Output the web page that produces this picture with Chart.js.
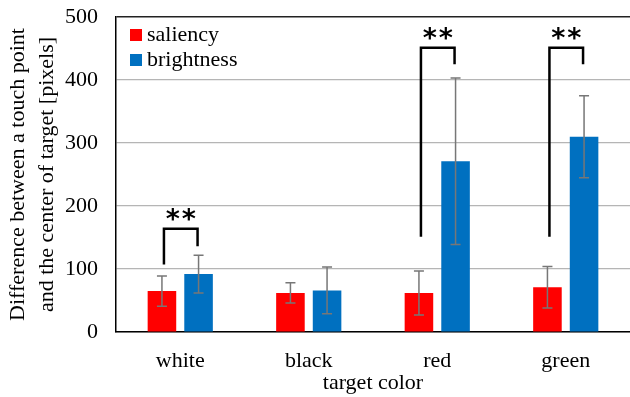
<!DOCTYPE html>
<html>
<head>
<meta charset="utf-8">
<script src="https://cdn.jsdelivr.net/npm/chart.js@4"></script>
<style>
  html, body { margin: 0; padding: 0; background: #fff; }
  #wrap { width: 630px; height: 397px; }
</style>
</head>
<body>
<div id="wrap"><canvas id="bar-chart"></canvas></div>
<script>
// data
categories = ['white', 'black', 'red', 'green']
saliencyMean = [65, 62, 62, 71]
saliencyErr = [24, 16, 35, 33]
brightnessMean = [92, 66, 271, 310]
brightnessErr = [30, 37, 132, 65]
yTicks = [0, 100, 200, 300, 400, 500]

// significance brackets (category index, left foot, right foot, top) in data units
bracketCat = [0, 2, 3]
bracketLeft = [107, 151, 151]
bracketRight = [136, 425, 425]
bracketTop = [164, 451, 451]

fontName = '"Liberation Serif", "Times New Roman", serif'
errors = [saliencyErr, brightnessErr]

// error bars with caps
errorBarPlugin = {
    id: 'errorBars',
    afterDatasetsDraw: function(chart) {
        var ctx = chart.ctx
        var y = chart.scales.y
        ctx.save()
        ctx.strokeStyle = '#777777'
        ctx.lineWidth = 1.5
        chart.data.datasets.forEach(function(ds, i) {
            var meta = chart.getDatasetMeta(i)
            meta.data.forEach(function(bar, j) {
                var v = ds.data[j], e = errors[i][j]
                var top = y.getPixelForValue(v + e)
                var bot = y.getPixelForValue(v - e)
                ctx.beginPath()
                ctx.moveTo(bar.x, top); ctx.lineTo(bar.x, bot)
                ctx.moveTo(bar.x - 5, top); ctx.lineTo(bar.x + 5, top)
                ctx.moveTo(bar.x - 5, bot); ctx.lineTo(bar.x + 5, bot)
                ctx.stroke()
            })
        })
        ctx.restore()
    }
}

// "**" brackets
bracketPlugin = {
    id: 'brackets',
    afterDatasetsDraw: function(chart) {
        var ctx = chart.ctx
        var y = chart.scales.y
        var m0 = chart.getDatasetMeta(0), m1 = chart.getDatasetMeta(1)
        ctx.save()
        ctx.strokeStyle = '#000'
        ctx.lineWidth = 2.5
        ctx.lineJoin = 'miter'
        bracketCat.forEach(function(c, k) {
            var x1 = m0.data[c].x + 2, x2 = m1.data[c].x - 1
            var yt = y.getPixelForValue(bracketTop[k])
            ctx.beginPath()
            ctx.moveTo(x1, y.getPixelForValue(bracketLeft[k]))
            ctx.lineTo(x1, yt)
            ctx.lineTo(x2, yt)
            ctx.lineTo(x2, y.getPixelForValue(bracketRight[k]))
            ctx.stroke()
            ctx.fillStyle = '#000'
            ctx.font = 'bold 27px "DejaVu Sans"'
            ctx.textAlign = 'center'
            ctx.textBaseline = 'middle'
            var cx = (x1 + x2) / 2
            ctx.fillText('*', cx - 8, yt - 8)
            ctx.fillText('*', cx + 8, yt - 8)
        })
        ctx.restore()
    }
}

// legend inside the plot, top left
legendPlugin = {
    id: 'innerLegend',
    afterDraw: function(chart) {
        var ctx = chart.ctx
        var a = chart.chartArea
        ctx.save()
        ctx.font = '22px ' + fontName
        ctx.textBaseline = 'middle'
        chart.data.datasets.forEach(function(ds, i) {
            var cy = a.top + 18 + i * 25
            ctx.fillStyle = ds.backgroundColor
            ctx.fillRect(a.left + 14, cy - 6, 12, 12)
            ctx.fillStyle = '#000'
            ctx.fillText(ds.label, a.left + 31, cy)
        })
        ctx.restore()
    }
}

window.onload = function() {
    ctx = document.getElementById('bar-chart')
    config = {
        type: 'bar',
        data: {
            labels: categories,
            datasets: [{
                label: 'saliency',
                backgroundColor: '#FF0000',
                data: saliencyMean,
                categoryPercentage: 0.57,
                barPercentage: 0.78
            }, {
                label: 'brightness',
                backgroundColor: '#0070C0',
                data: brightnessMean,
                categoryPercentage: 0.57,
                barPercentage: 0.78
            }]
        },
        options: {
            responsive: true,
            maintainAspectRatio: false,
            animation: false,
            layout: { padding: { top: 17, right: 0, left: 0, bottom: 0 } },
            plugins: {
                legend: { display: false },
                tooltip: { enabled: false }
            },
            scales: {
                x: {
                    grid: { display: false },
                    border: { color: '#000', width: 1.5 },
                    ticks: { color: '#000', font: { family: fontName, size: 22 }, padding: 8 },
                    title: { display: true, text: 'target color', color: '#000', font: { family: fontName, size: 22 }, padding: { top: 0, bottom: 1 } },
                    afterFit: function(s) { s.height = 65; s.paddingLeft = 0; s.paddingRight = 0 }
                },
                y: {
                    min: 0,
                    max: 500,
                    afterBuildTicks: function(s) { s.ticks = yTicks.map(function(v) { return { value: v } }) },
                    grid: {
                        color: function(c) { return c.tick.value == 500 ? '#222' : '#b5b5b5' },
                        lineWidth: function(c) { return c.tick.value == 500 ? 1.5 : 1.2 },
                        drawTicks: false
                    },
                    border: { color: '#000', width: 1.5 },
                    ticks: { color: '#000', font: { family: fontName, size: 22 }, padding: 18 },
                    title: {
                        display: true,
                        text: ['Difference between a touch point', 'and the center of target [pixels]'],
                        color: '#000',
                        font: { family: fontName, size: 22, lineHeight: 1.3 },
                        padding: { top: 4, bottom: 0 }
                    },
                    afterFit: function(s) { s.width = 116; s.paddingTop = 0; s.paddingBottom = 0 }
                }
            }
        },
        plugins: [errorBarPlugin, bracketPlugin, legendPlugin]
    }
    createNewChart = new Chart(ctx, config)
}
</script>
</body>
</html>
